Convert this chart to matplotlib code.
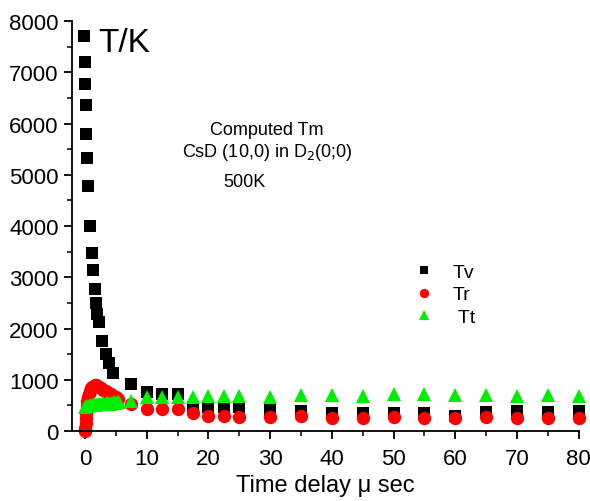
import matplotlib
matplotlib.use('Agg')
import matplotlib.pyplot as plt
from matplotlib.ticker import MultipleLocator

plt.rcParams['font.family'] = ['Liberation Sans', 'DejaVu Sans']

# vibrational temperature (black squares)
t_v = [-0.1, 0.0, 0.0, 0.15, 0.25, 0.35, 0.5, 0.8, 1.1, 1.25, 1.6, 1.8, 2.0, 2.3,
       2.7, 3.4, 3.9, 4.6, 7.5, 10, 12.5, 15, 17.5, 20, 22.5, 25,
       30, 35, 40, 45, 50, 55, 60, 65, 70, 75, 80]
T_v = [7710, 7210, 6780, 6360, 5800, 5330, 4790, 4010, 3470, 3140, 2770, 2500, 2280, 2130,
       1760, 1500, 1320, 1130, 920, 770, 720, 720, 470, 470, 470, 470,
       410, 400, 360, 360, 350, 360, 300, 380, 390, 370, 400]

# rotational temperature (red circles)
t_r = [0.0, 0.05, 0.1, 0.15, 0.2, 0.3, 0.4, 0.5, 0.6, 0.8, 1.0, 1.2, 1.4, 1.6, 1.8,
       2.0, 2.3, 2.6, 3.0, 3.4, 3.8, 4.2, 4.6, 5.0, 5.4,
       7.5, 10, 12.5, 15, 17.5, 20, 22.5, 25,
       30, 35, 40, 45, 50, 55, 60, 65, 70, 75, 80]
T_r = [0, 60, 150, 250, 350, 480, 580, 660, 720, 790, 830, 860, 880, 890, 890,
       880, 860, 840, 810, 780, 750, 720, 690, 660, 620,
       530, 430, 430, 430, 345, 300, 300, 280,
       280, 285, 250, 255, 280, 255, 260, 265, 250, 255, 255]

# translational temperature (green triangles)
t_t = [0.0, 0.25, 0.5, 0.75, 1.0, 1.25, 1.5, 1.75, 2.0, 2.25, 2.5, 2.75, 3.0, 3.25,
       3.5, 3.75, 4.0, 4.25, 4.5, 4.75, 5.0, 5.25, 5.5,
       7.5, 10, 12.5, 15, 17.5, 20, 22.5, 25,
       30, 35, 40, 45, 50, 55, 60, 65, 70, 75, 80]
T_t = [470, 480, 490, 500, 510, 505, 520, 515, 530, 520, 535, 525, 545, 530,
       540, 550, 535, 555, 545, 560, 550, 565, 560,
       590, 660, 660, 660, 670, 675, 675, 675,
       665, 710, 710, 675, 720, 720, 710, 710, 675, 695, 675]

fig = plt.figure(figsize=(5.9, 5.02), dpi=100)
ax = fig.add_axes([0.122, 0.1394, 0.859, 0.8166])

ax.plot(t_v, T_v, 's', color='black', ms=8.8, mew=0, clip_on=False, label='Tv')
ax.plot(t_r, T_r, 'o', color='red', ms=9.6, mew=0, clip_on=False, label='Tr')
ax.plot(t_t, T_t, '^', color='#00ee00', ms=10.5, mew=0, clip_on=False, label=' Tt')

ax.set_xlim(-2.1, 80)
ax.set_ylim(0, 8000)
ax.xaxis.set_major_locator(MultipleLocator(10))
ax.xaxis.set_minor_locator(MultipleLocator(5))
ax.yaxis.set_major_locator(MultipleLocator(1000))
ax.yaxis.set_minor_locator(MultipleLocator(500))
for s in ['top', 'right']:
    ax.spines[s].set_visible(False)
for s in ['left', 'bottom']:
    ax.spines[s].set_linewidth(1.3)
ax.tick_params(which='major', direction='out', length=6, width=1.3, labelsize=16)
ax.tick_params(axis='x', which='major', pad=6)
ax.tick_params(which='minor', direction='out', length=3.5, width=1.1)
ax.set_xlabel('Time delay \u03bc sec', fontsize=17, labelpad=4)

ax.text(2.2, 7420, 'T/K', fontsize=24)
ax.text(29.5, 5890, 'Computed Tm', fontsize=13, ha='center', va='center')
ax.text(29.5, 5450, 'CsD (10,0) in D$_2$(0;0)', fontsize=13, ha='center', va='center')
ax.text(25.8, 4860, '500K', fontsize=13, ha='center', va='center')

leg = ax.legend(loc='upper left', bbox_to_anchor=(0.64, 0.452), frameon=False,
                fontsize=14, markerscale=0.7, handlelength=1.0, handletextpad=1.0,
                labelspacing=0.25)

fig.savefig('out.png', dpi=100)
